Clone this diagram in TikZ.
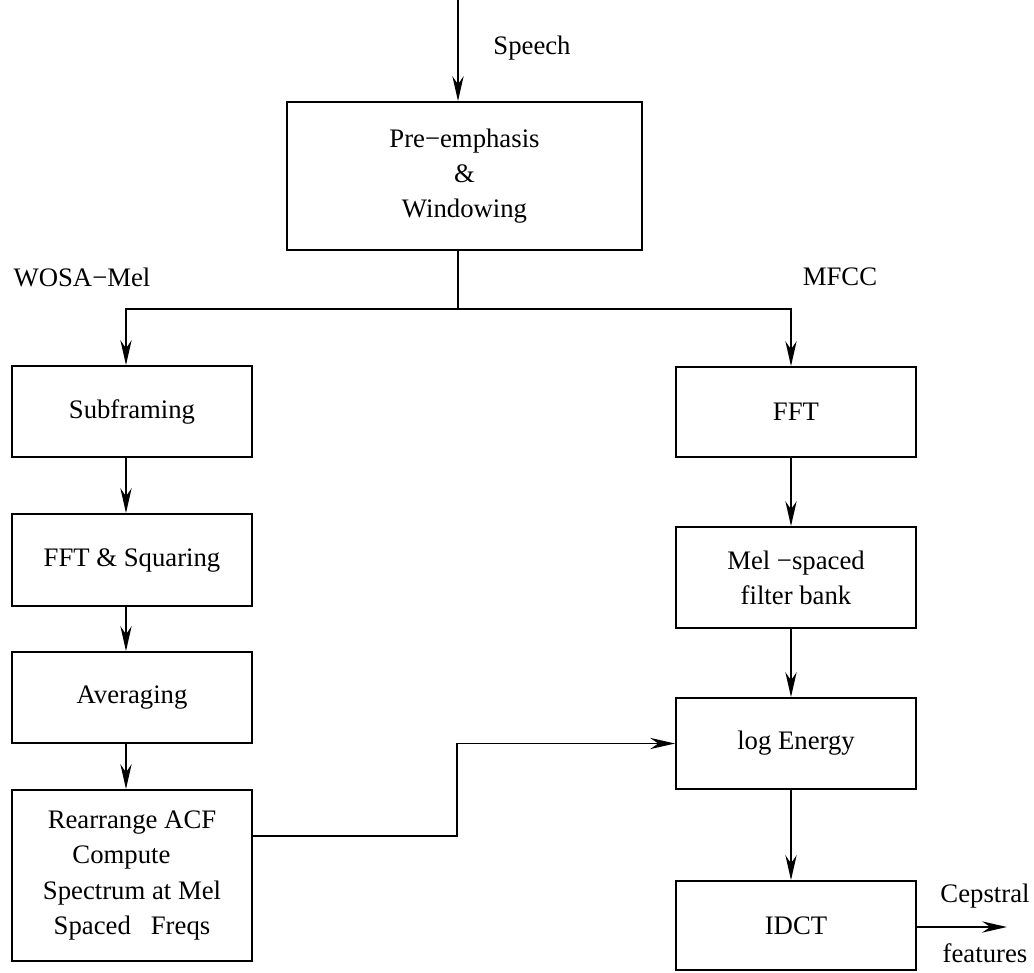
\documentclass[tikz,border=0pt]{standalone}
\usepackage{fontspec}
\setmainfont{Liberation Serif}
\usetikzlibrary{arrows.meta}

\tikzset{
  blk/.style={draw, line width=1.3pt, minimum width=6cm, align=center, inner sep=0pt},
  flow/.style={line width=1.3pt, -{Stealth[length=0.62cm, width=0.28cm, inset=0.2cm]}},
  wire/.style={line width=1.3pt},
  lbl/.style={inner sep=0pt}
}

\begin{document}
\begin{tikzpicture}[x=0.025cm, y=-0.025cm, font=\fontsize{19}{25}\selectfont]
  \useasboundingbox (0,0) rectangle (1034,973);

  % Common front end
  \node[blk, minimum width=8.875cm, minimum height=3.7cm] (pre) at (464.5,176) {Pre−emphasis\\\&\\Windowing};

  % WOSA-Mel branch
  \node[blk, minimum height=2.275cm] (sub) at (132,411.5) {Subframing};
  \node[blk, minimum height=2.3cm] (fftsq) at (132,560) {FFT \& Squaring};
  \node[blk, minimum height=2.275cm] (avg) at (132,697.5) {Averaging};
  \node[blk, minimum height=4.275cm] (acf) at (132,875.5) {Rearrange ACF\\Compute\kern15pt\\Spectrum at Mel\\Spaced~~~Freqs};

  % MFCC branch
  \node[blk, minimum height=2.25cm] (fft) at (796,412) {FFT};
  \node[blk, minimum height=2.525cm] (melbank) at (796,577.5) {Mel −spaced\\filter bank};
  \node[blk, minimum height=2.275cm] (loge) at (796,743.5) {log Energy};
  \node[blk, minimum height=2.225cm] (idct) at (796,925.5) {IDCT};

  % Labels
  \node[lbl] (speech) at (532,48) {Speech};
  \node[lbl] (wosa) at (82,277) {WOSA−Mel};
  \node[lbl] (mfcc) at (840,277) {MFCC};
  \node[lbl] (ceps) at (985,896) {Cepstral};
  \node[lbl] (feat) at (985,953) {features};

  % Helper points
  \coordinate (in) at (458,0);
  \coordinate (split) at (458,309);
  \coordinate (lcol) at (126,309);
  \coordinate (rcol) at (791,309);
  \coordinate (bend) at (457,836);
  \coordinate (out) at (1007,927);

  % Connectors
  \draw[flow] (in) -- (in |- pre.north);
  \draw[wire] (split |- pre.south) -- (split);
  \draw[flow] (split) -- (lcol) -- (lcol |- sub.north);
  \draw[flow] (split) -- (rcol) -- (rcol |- fft.north);

  \draw[flow] (lcol |- sub.south) -- (lcol |- fftsq.north);
  \draw[flow] (lcol |- fftsq.south) -- (lcol |- avg.north);
  \draw[flow] (lcol |- avg.south) -- (lcol |- acf.north);

  \draw[flow] (rcol |- fft.south) -- (rcol |- melbank.north);
  \draw[flow] (rcol |- melbank.south) -- (rcol |- loge.north);
  \draw[flow] (rcol |- loge.south) -- (rcol |- idct.north);

  \draw[flow] (acf.east |- bend) -- (bend) |- (loge.west);
  \draw[flow] (idct.east |- out) -- (out);
\end{tikzpicture}
\end{document}
